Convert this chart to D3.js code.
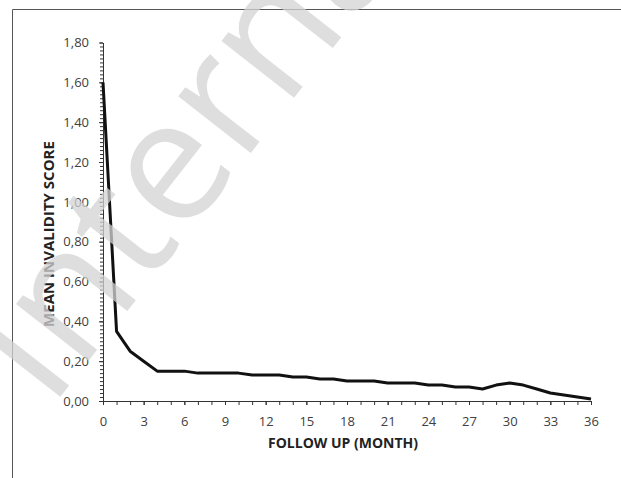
<!DOCTYPE html>
<meta charset="utf-8">
<style>
body{ margin:0; background:#fff; }
text{ font-family: "Open Sans", sans-serif; }
.tick text{ fill:#404040; font-size:13px; }
.domain, .tick line{ stroke:#333; }
</style>
<svg width="621" height="478"></svg>
<script src="https://d3js.org/d3.v7.min.js"></script>
<script>

// follow-up months and mean invalidity score
var months = [0,1,2,3,4,5,6,7,8,9,10,11,12,13,14,15,16,17,18,19,20,21,22,23,24,25,26,27,28,29,30,31,32,33,34,35,36];
var scores = [1.60,0.35,0.25,0.20,0.15,0.15,0.15,0.14,0.14,0.14,0.14,0.13,0.13,0.13,0.12,0.12,0.11,0.11,0.10,0.10,0.10,0.09,0.09,0.09,0.08,0.08,0.07,0.07,0.06,0.08,0.09,0.08,0.06,0.04,0.03,0.02,0.01];

var xTicks = [0,3,6,9,12,15,18,21,24,27,30,33,36];
var yTicks = [0,0.2,0.4,0.6,0.8,1.0,1.2,1.4,1.6,1.8];
var yTickLabels = ["0,00","0,20","0,40","0,60","0,80","1,00","1,20","1,40","1,60","1,80"];

var svg = d3.select("svg"),
    width = +svg.attr("width"),
    height = +svg.attr("height");

// frame round the figure (top and left edges only are visible)
svg.append("line").attr("x1", 12.5).attr("y1", 9.5).attr("x2", width).attr("y2", 9.5)
   .attr("stroke", "#555");
svg.append("line").attr("x1", 12.5).attr("y1", 9.5).attr("x2", 12.5).attr("y2", height)
   .attr("stroke", "#555");

var x = d3.scaleLinear().domain([0, 36]).range([103, 591]);
var y = d3.scaleLinear().domain([0, 1.8]).range([401, 42.5]);

// minor ticks
var yMinor = d3.range(0, 91).map(function(i){ return i * 0.02; });
svg.append("g")
   .attr("transform", "translate(" + x(0) + ",0)")
   .call(d3.axisLeft(y).tickValues(yMinor).tickSize(3).tickFormat(""))
   .call(function(g){ g.select(".domain").remove(); });

svg.append("g")
   .attr("transform", "translate(0," + y(0) + ")")
   .call(d3.axisBottom(x).tickValues(months).tickSize(4).tickFormat(""))
   .call(function(g){ g.select(".domain").remove(); });

// main axes
svg.append("g")
   .attr("transform", "translate(" + x(0) + ",0)")
   .call(d3.axisLeft(y).tickValues(yTicks).tickSize(4).tickSizeOuter(0).tickPadding(10)
     .tickFormat(function(d, i){ return yTickLabels[i]; }));

svg.append("g")
   .attr("transform", "translate(0," + y(0) + ")")
   .call(d3.axisBottom(x).tickValues(xTicks).tickSize(4).tickSizeOuter(0).tickPadding(12)
     .tickFormat(function(d){ return String(d); }));

svg.append("text")
   .attr("x", 343).attr("y", 448)
   .attr("text-anchor", "middle")
   .attr("font-weight", "bold").attr("font-size", 14).attr("fill", "#222")
   .text("FOLLOW UP (MONTH)");

svg.append("text")
   .attr("transform", "translate(54,234) rotate(-90)")
   .attr("text-anchor", "middle")
   .attr("font-weight", "bold").attr("font-size", 15).attr("fill", "#222")
   .text("MEAN INVALIDITY SCORE");

var line = d3.line()
   .x(function(d, i){ return x(months[i]); })
   .y(function(d){ return y(d); });

svg.append("path")
   .datum(scores)
   .attr("d", line)
   .attr("fill", "none")
   .attr("stroke", "#111")
   .attr("stroke-width", 3)
   .attr("stroke-linejoin", "round");

// watermark
svg.append("text")
   .attr("transform", "translate(50,410) rotate(-52)")
   .attr("font-family", "Liberation Sans, Arial, sans-serif")
   .attr("font-size", 172)
   .attr("fill", "#d4d4d4")
   .attr("opacity", 0.75)
   .text("International");

</script>
